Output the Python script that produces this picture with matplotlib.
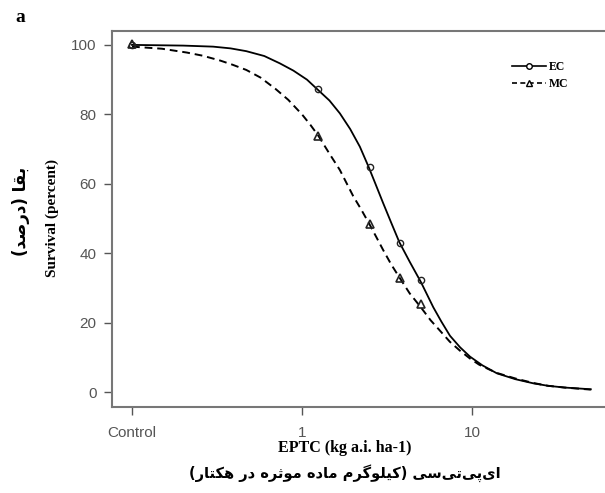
import matplotlib
matplotlib.use("Agg")
import matplotlib.pyplot as plt
from matplotlib.lines import Line2D

# data
dose_ec = [0.1, 1.25, 2.5, 3.75, 5.0]
surv_ec = [100.0, 87.4, 65.0, 42.9, 32.4]
dose_mc = [0.1, 1.25, 2.5, 3.75, 5.0]
surv_mc = [100.3, 73.8, 48.5, 33.0, 25.4]

# fitted curves
curve_x_ec = [0.1, 0.2, 0.3, 0.38, 0.47, 0.6, 0.74, 0.89, 1.07, 1.22, 1.45, 1.67, 1.92,
              2.19, 2.46, 2.7, 3.0, 3.35, 3.74, 4.3, 5.0, 5.92, 6.6, 7.42, 8.5, 9.73,
              11.5, 14.0, 18.0, 23.0, 28.0, 35.0, 50.0]
curve_y_ec = [100.0, 99.8, 99.5, 99.0, 98.2, 96.8, 94.7, 92.6, 90.0, 87.4, 84.0, 80.3, 75.8,
              70.7, 65.0, 60.1, 54.5, 48.8, 43.2, 37.6, 31.8, 24.5, 20.4, 16.3, 13.0, 10.3,
              7.8, 5.5, 3.8, 2.6, 1.9, 1.4, 0.9]
curve_x_mc = [0.1, 0.15, 0.21, 0.26, 0.33, 0.39, 0.47, 0.57, 0.7, 0.83, 1.0, 1.12, 1.25,
              1.45, 1.67, 2.0, 2.22, 2.5, 2.75, 3.0, 3.35, 3.75, 4.3, 5.0, 5.7, 6.47, 7.4,
              8.5, 9.7, 11.0, 12.5, 14.0, 18.0, 23.0, 28.0, 35.0, 50.0]
curve_y_mc = [99.5, 98.9, 97.8, 96.9, 95.5, 94.3, 92.8, 90.6, 87.3, 84.2, 80.0, 77.0, 73.8,
              68.7, 64.0, 56.5, 52.8, 48.3, 44.5, 41.0, 36.8, 33.0, 28.5, 24.5, 20.8, 17.8,
              14.6, 12.0, 9.8, 8.0, 6.7, 5.6, 4.0, 2.7, 1.9, 1.4, 0.8]

x_ticks = [0.1, 1, 10]
x_ticklabels = ["Control", "1", "10"]
y_ticks = [0, 20, 40, 60, 80, 100]

xlabel_fa = "ای\u200cپی\u200cتی\u200cسی (کیلوگرم ماده موثره در هکتار)"
ylabel_fa = "بقا (درصد)"

# arabic presentation forms: isolated, final, initial, medial
FORMS = {
    "ا": ("\uFE8D", "\uFE8E", None, None),
    "ب": ("\uFE8F", "\uFE90", "\uFE91", "\uFE92"),
    "پ": ("\uFB56", "\uFB57", "\uFB58", "\uFB59"),
    "ت": ("\uFE95", "\uFE96", "\uFE97", "\uFE98"),
    "ث": ("\uFE99", "\uFE9A", "\uFE9B", "\uFE9C"),
    "د": ("\uFEA9", "\uFEAA", None, None),
    "ر": ("\uFEAD", "\uFEAE", None, None),
    "س": ("\uFEB1", "\uFEB2", "\uFEB3", "\uFEB4"),
    "ص": ("\uFEB9", "\uFEBA", "\uFEBB", "\uFEBC"),
    "ق": ("\uFED5", "\uFED6", "\uFED7", "\uFED8"),
    "ک": ("\uFB8E", "\uFB8F", "\uFB90", "\uFB91"),
    "گ": ("\uFB92", "\uFB93", "\uFB94", "\uFB95"),
    "ل": ("\uFEDD", "\uFEDE", "\uFEDF", "\uFEE0"),
    "م": ("\uFEE1", "\uFEE2", "\uFEE3", "\uFEE4"),
    "ه": ("\uFEE9", "\uFEEA", "\uFEEB", "\uFEEC"),
    "و": ("\uFEED", "\uFEEE", None, None),
    "ی": ("\uFBFC", "\uFBFD", "\uFBFE", "\uFBFF"),
}


def shape(text):
    # minimal persian shaping + visual reordering for matplotlib
    out = []
    for i, c in enumerate(text):
        if c not in FORMS:
            if c != "\u200c":
                out.append(c)
            continue
        prev = text[i - 1] if i > 0 else ""
        nxt = text[i + 1] if i + 1 < len(text) else ""
        p = prev in FORMS and FORMS[prev][2] is not None
        n = FORMS[c][2] is not None and nxt in FORMS
        iso, fin, ini, med = FORMS[c]
        if p and n:
            out.append(med)
        elif p:
            out.append(fin)
        elif n:
            out.append(ini)
        else:
            out.append(iso)
    s = "".join(reversed(out))
    return s.replace("(", "\0").replace(")", "(").replace("\0", ")")


fig = plt.figure(figsize=(6.05, 4.93), dpi=100)
ax = fig.add_axes([112 / 605, 1 - 407 / 493, 1 - 112 / 605, (407 - 31) / 493])

ax.plot(curve_x_ec, curve_y_ec, color="black", lw=1.3, ls="-")
ax.plot(curve_x_mc, curve_y_mc, color="black", lw=1.4, ls=(0, (4, 2.5)))
ax.plot(dose_ec, surv_ec, ls="none", marker="o", ms=4.5, mfc="none", mec="#222222", mew=1)
ax.plot(dose_mc, surv_mc, ls="none", marker="^", ms=6, mfc="none", mec="#222222", mew=1.2)

ax.set_xscale("log")
ax.set_xlim(10 ** ((112 - 302) / 170), 10 ** ((605 - 302) / 170))
ax.set_ylim(-4.2, 104.0)
ax.set_xticks(x_ticks)
ax.set_xticklabels(x_ticklabels)
ax.xaxis.set_minor_locator(matplotlib.ticker.NullLocator())
ax.set_yticks(y_ticks)

for s in ["left", "bottom", "top"]:
    ax.spines[s].set_color("#777777")
    ax.spines[s].set_linewidth(1.5)
ax.spines["right"].set_visible(False)
ax.tick_params(axis="both", direction="out", length=6, width=1, color="#555555",
               labelcolor="#555555", labelsize=11)
ax.tick_params(axis="x", pad=8)
ax.tick_params(axis="y", pad=5)
for lab in ax.get_xticklabels() + ax.get_yticklabels():
    lab.set_family("Liberation Sans")

fig.text(345 / 605, 1 - 448 / 493, "EPTC (kg a.i. ha-1)", ha="center", va="center",
         family="Liberation Serif", weight="bold", fontsize=11.5)
fig.text(345 / 605, 1 - 473 / 493, shape(xlabel_fa), ha="center", va="center",
         family=["DejaVu Sans"], weight="bold", fontsize=10.5)
fig.text(52 / 605, 1 - 218 / 493, "Survival (percent)", ha="center", va="center",
         rotation=90, family="Liberation Serif", weight="bold", fontsize=11)
fig.text(21 / 605, 1 - 211 / 493, shape(ylabel_fa), ha="center", va="center",
         rotation=90, family=["DejaVu Sans"], weight="bold", fontsize=12)
fig.text(20 / 605, 1 - 18 / 493, "a", ha="center", va="center",
         family="Liberation Serif", weight="bold", fontsize=14)

handles = [
    Line2D([], [], color="black", lw=1.2, marker="o", ms=4, mfc="white", mec="black"),
    Line2D([], [], color="black", lw=1.2, ls=(0, (3, 2)), marker="^", ms=5, mfc="white", mec="black"),
]
ax.legend(handles, ["EC", "MC"], loc="upper left", bbox_to_anchor=(506 / 605, 1 - 55 / 493),
          bbox_transform=fig.transFigure, frameon=False, borderpad=0, handlelength=2.9,
          handletextpad=0.2, labelspacing=0.45, prop={"family": "Liberation Serif",
                                                       "weight": "bold", "size": 8.5})

fig.savefig("out.png", dpi=100)
